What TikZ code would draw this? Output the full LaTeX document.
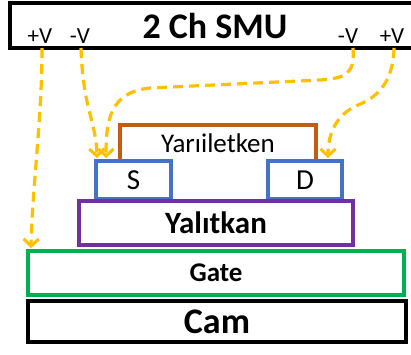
\documentclass[tikz,border=0pt]{standalone}
\usepackage{fontspec}
\setmainfont{Carlito}
\usetikzlibrary{arrows.meta}
\definecolor{wire}{HTML}{FFC000}
\definecolor{semi}{HTML}{C55A11}
\definecolor{elec}{HTML}{4472C4}
\definecolor{insu}{HTML}{7030A0}
\definecolor{gatec}{HTML}{00B050}
\tikzset{
  box/.style={draw, line width=3.4pt, inner sep=0pt, minimum width=#1},
  wirestyle/.style={draw=wire, line width=3.2pt, dash pattern=on 10pt off 6pt, -{Straight Barb[length=7pt,width=15pt,line width=3pt]}},
  lbl/.style={inner sep=0pt, font=\fontsize{23}{23}\selectfont}
}
\begin{document}
\begin{tikzpicture}[x=1pt,y=-1pt]
\clip (0,0) rectangle (411,354);
\useasboundingbox (0,0) rectangle (411,354);
\fill[white] (0,0) rectangle (411,354);
% SMU
\node[box=410pt, minimum height=45pt, font=\bfseries\fontsize{36}{36}\selectfont] (smu) at (215,25.5) {2 Ch SMU};
\node[lbl] (pvl) at (40,36) {+V};
\node[lbl] (nvl) at (80,36) {-V};
\node[lbl] (nvr) at (348,36) {-V};
\node[lbl] (pvr) at (392,36) {+V};
% Semiconductor
\draw[semi, line width=3.4pt] (120,160) -- (120,125) -- (316,125) -- (316,160);
\node[inner sep=0pt, font=\fontsize{27}{27}\selectfont] (semi) at (218,143) {Yarıiletken};
% S and D
\node[box=75pt, draw=elec, minimum height=38pt, font=\fontsize{29}{29}\selectfont] (S) at (133.5,180) {S};
\node[box=74pt, draw=elec, minimum height=38pt, font=\fontsize{29}{29}\selectfont] (D) at (305,180) {D};
% Insulator
\node[box=274pt, draw=insu, minimum height=44pt, font=\bfseries\fontsize{31}{31}\selectfont] (ins) at (216,223) {Yalıtkan};
% Gate
\node[box=376pt, draw=gatec, minimum height=44pt, font=\bfseries\fontsize{27}{27}\selectfont] (gate) at (216,273) {Gate};
% Cam
\node[box=378pt, minimum height=41pt, font=\bfseries\fontsize{36}{36}\selectfont] (cam) at (217,321.5) {Cam};
% wire endpoints
\coordinate (a1) at (42,48);
\coordinate (a2) at (81,48);
\coordinate (a3) at (353,48);
\coordinate (a4) at (394,48);
\coordinate (t1) at (31,248);
\coordinate (t2) at (97,158);
\coordinate (t3) at (106,158);
\coordinate (t4) at (328,158);
\path[wirestyle] (a1) .. controls (42,120) and (32,190) .. (t1);
\path[wirestyle] (a2) .. controls (83,110) and (96,120) .. (t2);
\path[wirestyle] (a3) .. controls (355,75) and (345,78) .. (320,80) -- (150,88) .. controls (110,92) and (106,120) .. (t3);
\path[wirestyle] (a4) .. controls (393,85) and (375,98) .. (358,105) .. controls (335,115) and (328,135) .. (t4);
\end{tikzpicture}
\end{document}
